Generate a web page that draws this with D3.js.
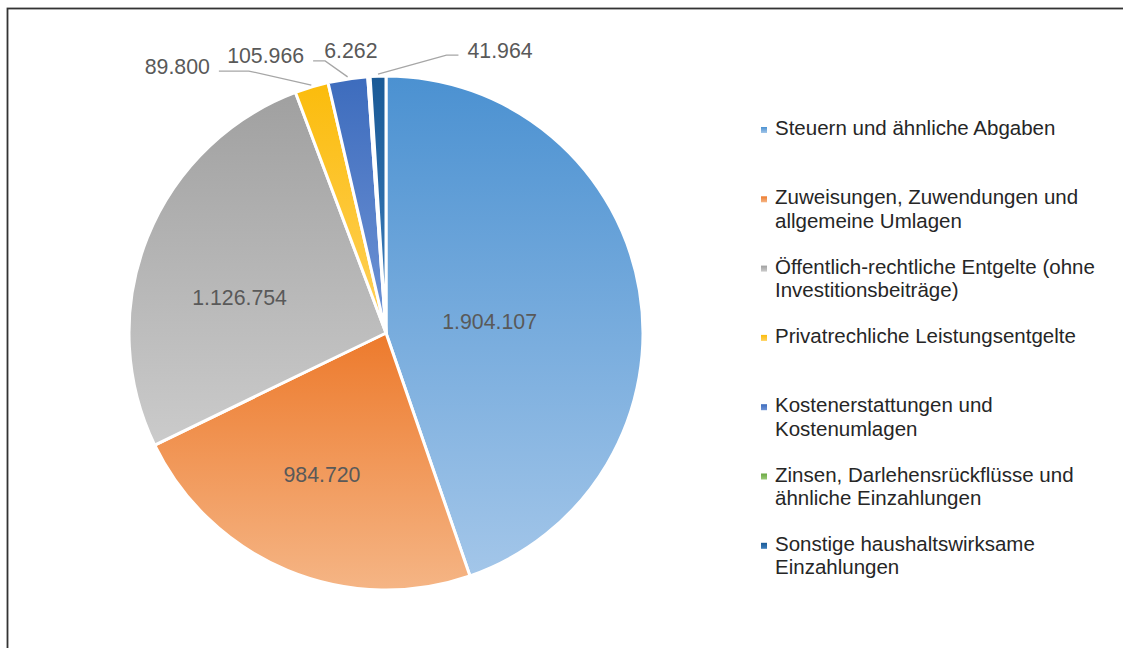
<!DOCTYPE html>
<html>
<head>
<meta charset="utf-8">
<script src="https://cdn.jsdelivr.net/npm/d3@7"></script>
<style>
  html, body { margin: 0; padding: 0; background: #ffffff; }
  svg { display: block; }
</style>
</head>
<body>
<script>
// Data

const categories = [
  "Steuern und ähnliche Abgaben",
  "Zuweisungen, Zuwendungen und allgemeine Umlagen",
  "Öffentlich-rechtliche Entgelte (ohne Investitionsbeiträge)",
  "Privatrechliche Leistungsentgelte",
  "Kostenerstattungen und Kostenumlagen",
  "Zinsen, Darlehensrückflüsse und ähnliche Einzahlungen",
  "Sonstige haushaltswirksame Einzahlungen",
];
const values = [1904107, 984720, 1126754, 89800, 105966, 6262, 41964];

// Colours (top / bottom of each slice's gradient)

const topColors = ["#4b91d1", "#ed7a2c", "#a0a0a0", "#fbbc0c", "#3d6cbd", "#6aa842", "#1a5a96"];
const bottomColors = ["#a3c6e9", "#f5b585", "#cbcbcb", "#ffd15c", "#7094d6", "#9bcb7a", "#3f7fbd"];

// Manual placement of the small slices' labels, relative to the slice edge
const outerLabelOffsets = {
  3: [-134, -20],
  4: [-82, -22],
  5: [-18, -25],
  6: [122, -25],
};
// small nudges of the inside labels away from the sector's centre of mass
const innerLabelNudges = {
  0: [-15, 8],
  1: [-4, -3],
  2: [-5, 21],
};

const width = 1123;
const height = 648;
const cx = 386;
const cy = 333;
const radius = 257;

const legendX = 761;
const legendTop = 135;
const legendStep = 69.3;
const legendLineHeight = 23.5;
const legendWrap = 330;

const font = "'Liberation Sans', Arial, Helvetica, sans-serif";

const de = d3.formatLocale({ decimal: ",", thousands: ".", grouping: [3], currency: ["", " €"] });
const fmt = de.format(",d");

// SVG

const svg = d3
  .select("body")
  .append("svg")
  .attr("width", width)
  .attr("height", height)
  .attr("viewBox", `0 0 ${width} ${height}`);

const defs = svg.append("defs");

// Frame (runs off the right and bottom edge)

svg
  .append("rect")
  .attr("x", 7.5)
  .attr("y", 8.5)
  .attr("width", width + 20)
  .attr("height", height + 20)
  .attr("fill", "#ffffff")
  .attr("stroke", "#333333")
  .attr("stroke-width", 1.8);

// Gradients

values.forEach((_, i) => {
  const g = defs
    .append("linearGradient")
    .attr("id", `grad${i}`)
    .attr("x1", 0)
    .attr("y1", 0)
    .attr("x2", 0)
    .attr("y2", 1);
  g.append("stop").attr("offset", "0").attr("stop-color", topColors[i]);
  g.append("stop").attr("offset", "1").attr("stop-color", bottomColors[i]);
});

// Pie

const pie = d3.pie().sort(null).value((d) => d)(values);
const arc = d3.arc().innerRadius(0).outerRadius(radius);

const chart = svg.append("g").attr("transform", `translate(${cx}, ${cy})`);

chart
  .selectAll()
  .data(pie)
  .enter()
  .append("path")
  .attr("d", arc)
  .attr("fill", (d) => `url(#grad${d.index})`)
  .attr("stroke", "#ffffff")
  .attr("stroke-width", 3)
  .attr("stroke-linejoin", "round");

// Data labels

const labelStyle = (sel) =>
  sel
    .attr("font-family", font)
    .attr("font-size", "21.3px")
    .attr("fill", "#595959")
    .attr("text-anchor", "middle")
    .attr("dy", "0.35em");

// centre of mass of a sector, as the inner label spot
const massCentre = (d) => {
  const half = (d.endAngle - d.startAngle) / 2;
  const mid = d.startAngle + half;
  const r = (2 * radius * Math.sin(half)) / (3 * half);
  const [nx, ny] = innerLabelNudges[d.index] || [0, 0];
  return [r * Math.sin(mid) + nx, -r * Math.cos(mid) + ny];
};

const inner = pie.filter((d) => !outerLabelOffsets[d.index]);
const outer = pie.filter((d) => outerLabelOffsets[d.index]);

chart
  .selectAll()
  .data(inner)
  .enter()
  .append("text")
  .call(labelStyle)
  .attr("x", (d) => massCentre(d)[0])
  .attr("y", (d) => massCentre(d)[1])
  .text((d) => fmt(d.value));

const edgePoint = (d) => {
  const mid = (d.startAngle + d.endAngle) / 2;
  return [(radius + 1) * Math.sin(mid), -(radius + 1) * Math.cos(mid)];
};

const outerText = chart
  .selectAll()
  .data(outer)
  .enter()
  .append("text")
  .call(labelStyle)
  .attr("x", (d) => edgePoint(d)[0] + outerLabelOffsets[d.index][0])
  .attr("y", (d) => edgePoint(d)[1] + outerLabelOffsets[d.index][1])
  .text((d) => fmt(d.value));

// Leader lines

outerText.each(function (d) {
  const [ox, oy] = outerLabelOffsets[d.index];
  if (Math.abs(ox) < 40) return;
  const [ax, ay] = edgePoint(d);
  const half = this.getComputedTextLength() / 2;
  const lx = ax + ox;
  const ly = ay + oy + 5;
  const side = ox < 0 ? 1 : -1;
  const endX = lx + side * (half + 9);
  const elbowX = endX + side * (ox < -100 ? 30 : 12);
  chart
    .insert("path", "text")
    .attr("d", d3.line()([[endX, ly], [elbowX, ly], [ax, ay - 1]]))
    .attr("fill", "none")
    .attr("stroke", "#a6a6a6")
    .attr("stroke-width", 1.3);
});

// Legend

const legend = svg.append("g").attr("font-family", font).attr("font-size", "20.5px");

categories.forEach((name, i) => {
  const y = legendTop + i * legendStep;
  const item = legend.append("g");

  item
    .append("rect")
    .attr("x", legendX)
    .attr("y", y - 8)
    .attr("width", 6)
    .attr("height", 6)
    .attr("fill", `url(#grad${i})`);

  const text = item
    .append("text")
    .attr("x", legendX + 14)
    .attr("y", y)
    .attr("fill", "#262626");

  // word wrap
  const words = name.split(" ");
  let line = [];
  let lineNo = 0;
  let tspan = text.append("tspan").attr("x", legendX + 14).attr("y", y);
  words.forEach((w) => {
    line.push(w);
    tspan.text(line.join(" "));
    if (tspan.node().getComputedTextLength() > legendWrap && line.length > 1) {
      line.pop();
      tspan.text(line.join(" "));
      line = [w];
      lineNo += 1;
      tspan = text
        .append("tspan")
        .attr("x", legendX + 14)
        .attr("y", y + lineNo * legendLineHeight)
        .text(w);
    }
  });
});
</script>
</body>
</html>
